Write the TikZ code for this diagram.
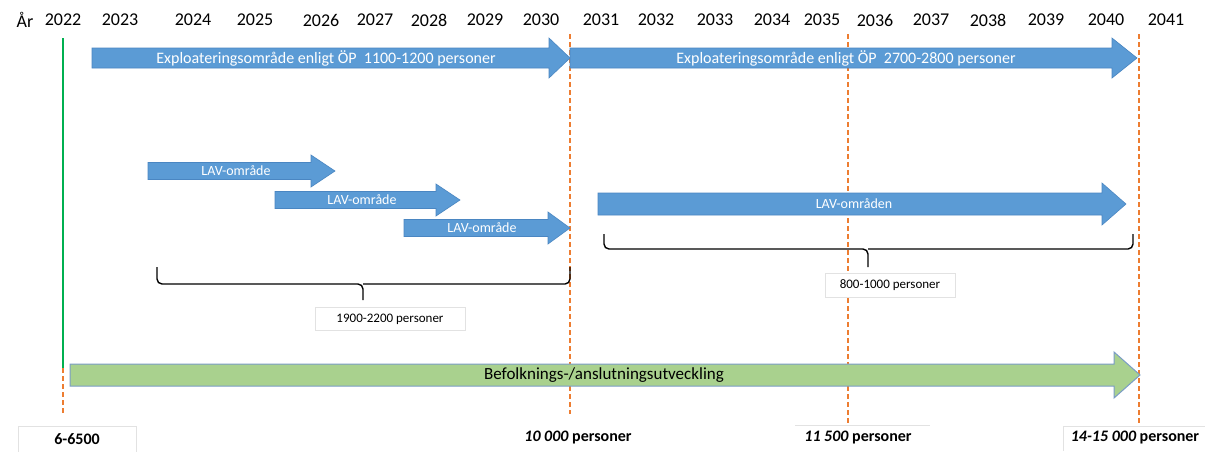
\documentclass[tikz,border=0pt]{standalone}
\usepackage{fontspec}
\setmainfont{Carlito}
\definecolor{arrblue}{HTML}{5B9BD5}
\definecolor{arredge}{HTML}{4A86C2}
\definecolor{grfill}{HTML}{A9D18E}
\definecolor{gredge}{HTML}{7A9CC6}
\definecolor{dashor}{HTML}{ED7D31}
\definecolor{vgreen}{HTML}{00B050}
\definecolor{boxedge}{HTML}{E2E2E2}
\tikzset{
  yearlbl/.style={font=\fontsize{18}{19}\selectfont, text=black, inner sep=0pt},
  bluearr/.style={fill=arrblue, draw=arredge, line width=0.6pt},
  greenarr/.style={fill=grfill, draw=gredge, line width=1pt},
  arrtext/.style={text=white, font=\fontsize{16}{17}\selectfont, inner sep=0pt},
  lavtext/.style={text=white, font=\fontsize{14}{15}\selectfont, inner sep=0pt},
  orline/.style={draw=dashor, line width=2pt, dash pattern=on 5pt off 3pt},
  bracelin/.style={draw=black, line width=1.4pt, rounded corners=5pt},
  cntbox/.style={draw=boxedge, fill=white, font=\fontsize{13}{14}\selectfont, inner sep=0pt},
  botlbl/.style={font=\fontsize{16}{17}\selectfont\bfseries, inner sep=0pt},
  botbox/.style={draw=boxedge, fill=white, botlbl},
}
% \harrow{x left}{x head start}{x tip}{y center}{half body}{half head}{style}{name}
\newcommand{\harrow}[8]{%
  \path[#7] (#1,#4-#5) -- (#2,#4-#5) -- (#2,#4-#6) -- (#3,#4) -- (#2,#4+#6) -- (#2,#4+#5) -- (#1,#4+#5) -- cycle;
  \coordinate (#8-l) at (#1,#4);
  \coordinate (#8-r) at (#3,#4);
}
\begin{document}
\begin{tikzpicture}[x=1pt,y=-1pt]
\useasboundingbox[fill=white] (0,0) rectangle (1213,451);

% years
\node[yearlbl] (yAr) at (25,20) {År};
\foreach \yr/\xx in {2022/63,2023/120,2024/193,2025/255,2026/321,2027/375,2028/429,2029/485,2030/541,2031/601,2032/656,2033/715,2034/772,2035/822,2036/875,2037/931,2038/988,2039/1046,2040/1106,2041/1166}
  \node[yearlbl] (y\yr) at (\xx,20) {\yr};

% vertical lines
\coordinate (g0) at (63,38);
\coordinate (g1) at (63,368);
\coordinate (g2) at (63,414);
\draw[draw=vgreen, line width=2pt] (g0) -- (g1);
\draw[orline] (g1) -- (g2);
\coordinate (o1a) at (570,34); \coordinate (o1b) at (570,414);
\coordinate (o2a) at (848,34); \coordinate (o2b) at (848,425);
\coordinate (o3a) at (1139,34); \coordinate (o3b) at (1139,425);
\draw[orline] (o1a) -- (o1b);
\draw[orline] (o2a) -- (o2b);
\draw[orline] (o3a) -- (o3b);

% top arrows
\harrow{92}{549}{570}{58}{10}{20}{bluearr}{a1}
\node[arrtext] (t1) at (326,58) {Exploateringsområde enligt ÖP\ \ 1100-1200 personer};
\harrow{570}{1112}{1137}{58}{10}{20}{bluearr}{a2}
\node[arrtext] (t2) at (846,58) {Exploateringsområde enligt ÖP\ \ 2700-2800 personer};

% LAV arrows
\harrow{148}{311}{335}{171}{8.5}{16}{bluearr}{l1}
\node[lavtext] (tl1) at (236,171) {LAV-område};
\harrow{275}{436}{460}{200}{8.5}{16}{bluearr}{l2}
\node[lavtext] (tl2) at (362,200) {LAV-område};
\harrow{404}{548}{570}{228}{8.5}{16}{bluearr}{l3}
\node[lavtext] (tl3) at (482,228) {LAV-område};
\harrow{598}{1102}{1126}{204}{11}{21}{bluearr}{l4}
\node[lavtext] (tl4) at (854,204) {LAV-områden};

% braces
\coordinate (b1l) at (157,267); \coordinate (b1m) at (363,300); \coordinate (b1r) at (570,267);
\draw[bracelin] (b1l) -- (157,284) -- (363,284) -- (b1m);
\draw[bracelin] (363,284) -- (570,284) -- (b1r);
\coordinate (b2l) at (604,234); \coordinate (b2m) at (868,267); \coordinate (b2r) at (1133,234);
\draw[bracelin] (b2l) -- (604,249) -- (868,249) -- (b2m);
\draw[bracelin] (868,249) -- (1133,249) -- (b2r);

\node[cntbox, minimum width=150pt, minimum height=23pt] (c1) at (390,319) {1900-2200 personer};
\node[cntbox, minimum width=130pt, minimum height=24pt] (c2) at (890,285) {800-1000 personer};

% green arrow
\harrow{70}{1114}{1140}{375}{11}{23}{greenarr}{ga}
\node[font=\fontsize{17}{18}\selectfont, inner sep=0pt] (gt) at (604,375) {Befolknings-/anslutningsutveckling};

% bottom labels
\node[botbox, minimum width=118pt, minimum height=26pt] (p0) at (77,439) {6-6500};
\node[botlbl] (p1) at (578,438) {\itshape 10 000\upshape{} personer};
\draw[draw=boxedge] (795,425) -- (930,425);
\node[botlbl] (p2) at (858,438) {\itshape 11 500\upshape{} personer};
\draw[draw=boxedge] (1063,451) -- (1063,426) -- (1205,426);
\node[botlbl] (p3) at (1135,438) {\itshape 14-15 000\upshape{} personer};
\end{tikzpicture}
\end{document}
